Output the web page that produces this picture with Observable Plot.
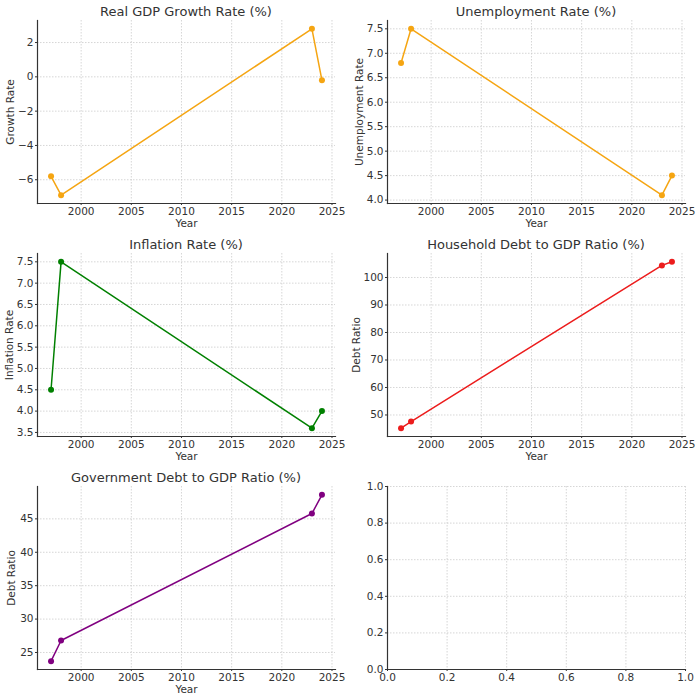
<!DOCTYPE html>
<html>
<head>
<meta charset="utf-8">
<script src="https://cdn.jsdelivr.net/npm/d3@7"></script>
<script src="https://cdn.jsdelivr.net/npm/@observablehq/plot@0.6"></script>
<style>
  html, body { margin: 0; padding: 0; background: #fff; }
  #root { position: relative; width: 700px; height: 699px; font-family: "DejaVu Sans", sans-serif; }
  .panel { position: absolute; width: 350px; height: 233px; }
  .panel svg { position: absolute; left: 0; top: 0; background: transparent; }
  .title { position: absolute; top: 5px; font-size: 13px; line-height: 14px; color: #333; text-align: center; white-space: nowrap; }
</style>
</head>
<body>
<div id="root"></div>
<script>
// ---- data ----
const years = [1997, 1998, 2023, 2024];
const gdpGrowth = [-5.8, -6.9, 2.8, -0.2];
const unemployment = [6.8, 7.5, 4.1, 4.5];
const inflation = [4.5, 7.5, 3.6, 4.0];
const householdDebt = [45.2, 47.6, 104.4, 105.7];
const governmentDebt = [23.7, 26.8, 45.8, 48.6];

const titles = ["Real GDP Growth Rate (%)", "Unemployment Rate (%)", "Inflation Rate (%)",
                "Household Debt to GDP Ratio (%)", "Government Debt to GDP Ratio (%)"];
const yLabels = ["Growth Rate", "Unemployment Rate", "Inflation Rate", "Debt Ratio", "Debt Ratio"];
const colors = ["#f5a512", "#f5a512", "green", "#ec1c1c", "purple"];
const xTicks = [2000, 2005, 2010, 2015, 2020, 2025];
const gdpTicks = [-6, -4, -2, 0, 2];
const unempTicks = [4.0, 4.5, 5.0, 5.5, 6.0, 6.5, 7.0, 7.5];
const inflTicks = [3.5, 4.0, 4.5, 5.0, 5.5, 6.0, 6.5, 7.0, 7.5];
const hhTicks = [50, 60, 70, 80, 90, 100];
const govTicks = [25, 30, 35, 40, 45];
const unitTicks = [0, 0.2, 0.4, 0.6, 0.8, 1.0];

const series = [gdpGrowth, unemployment, inflation, householdDebt, governmentDebt];
const yTickSets = [gdpTicks, unempTicks, inflTicks, hhTicks, govTicks];
const yFormats = ["d", ".1f", ".1f", "d", "d"];
const yLabelOffsets = [31, 32, 32, 35, 30];

// ---- layout helpers ----
const W = 350, H = 233;
const margin = {left: 37, right: 15, top: 20, bottom: 30};
const ink = "#333";
const gridStyle = {stroke: "#cccccc", strokeOpacity: 1, strokeWidth: 0.8, strokeDasharray: "1.5,1.5"};

function padded(values) {
  const [lo, hi] = d3.extent(values);
  const p = (hi - lo) * 0.05;
  return [lo - p, hi + p];
}

const root = document.getElementById("root");

function makePanel(i, row, col) {
  const div = document.createElement("div");
  div.className = "panel";
  div.style.left = (col * W) + "px";
  div.style.top = (row * H) + "px";
  root.appendChild(div);

  const isEmpty = i === null;
  const xDomain = isEmpty ? [0, 1] : padded(years);
  const yDomain = isEmpty ? [0, 1] : padded(series[i]);
  const xt = isEmpty ? unitTicks : xTicks;
  const yt = isEmpty ? unitTicks : yTickSets[i];
  const xf = isEmpty ? d3.format(".1f") : d3.format("d");
  const yf = isEmpty ? d3.format(".1f") : d3.format(yFormats[i]);

  const data = isEmpty ? [] : years.map((y, k) => ({year: y, value: series[i][k]}));

  const marks = [
    Plot.gridX(xt, gridStyle),
    Plot.gridY(yt, gridStyle),
    Plot.axisX(xt, {
      tickSize: 2, tickPadding: 2, tickFormat: xf, fontSize: 10.5, color: ink, stroke: ink,
      label: isEmpty ? null : "Year", labelAnchor: "center", labelArrow: "none", labelOffset: 23
    }),
    Plot.axisY(yt, {
      tickSize: 2, tickPadding: 2, tickFormat: yf, fontSize: 10.5, color: ink, stroke: ink,
      label: isEmpty ? null : yLabels[i], labelAnchor: "center", labelArrow: "none",
      labelOffset: isEmpty ? 30 : yLabelOffsets[i]
    }),
    Plot.frame({anchor: "left", stroke: ink, strokeWidth: 1.2}),
    Plot.frame({anchor: "bottom", stroke: ink, strokeWidth: 1.2})
  ];
  if (!isEmpty) {
    marks.push(Plot.line(data, {x: "year", y: "value", stroke: colors[i], strokeWidth: 1.5}));
    marks.push(Plot.dot(data, {x: "year", y: "value", fill: colors[i], r: 3}));
  }

  const svg = Plot.plot({
    width: W, height: H,
    marginLeft: margin.left, marginRight: margin.right,
    marginTop: margin.top, marginBottom: margin.bottom,
    style: {fontFamily: "DejaVu Sans, sans-serif", fontSize: "10.5px", color: ink, background: "transparent"},
    x: {domain: xDomain, axis: null},
    y: {domain: yDomain, axis: null},
    marks
  });
  div.appendChild(svg);

  if (!isEmpty) {
    const t = document.createElement("div");
    t.className = "title";
    t.textContent = titles[i];
    t.style.left = margin.left + "px";
    t.style.width = (W - margin.left - margin.right) + "px";
    div.appendChild(t);
  }
}

makePanel(0, 0, 0);
makePanel(1, 0, 1);
makePanel(2, 1, 0);
makePanel(3, 1, 1);
makePanel(4, 2, 0);
makePanel(null, 2, 1);
</script>
</body>
</html>
